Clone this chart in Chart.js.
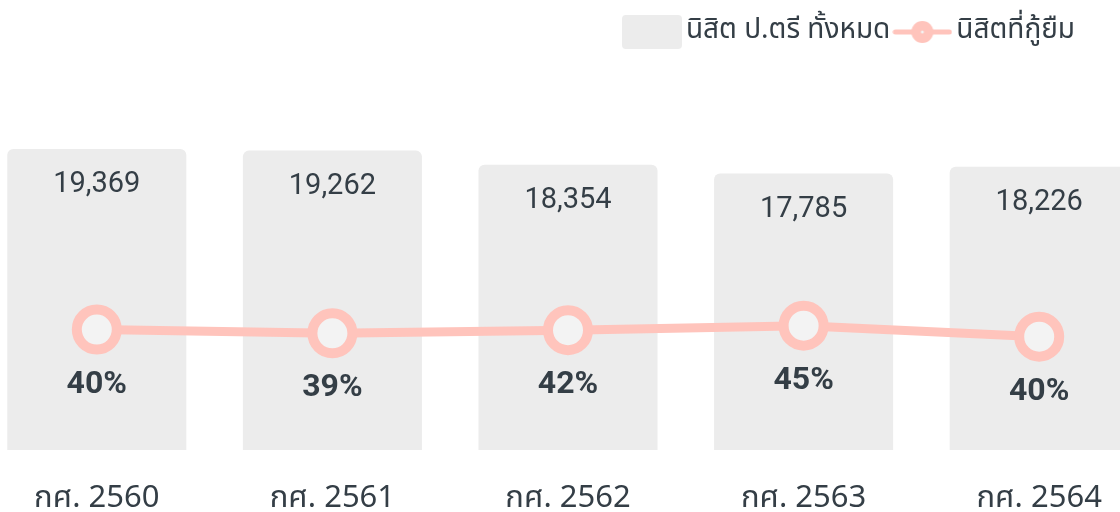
<!DOCTYPE html>
<html>
<head>
<meta charset="utf-8">
<script src="https://cdn.jsdelivr.net/npm/chart.js@4"></script>
<style>
  html, body { margin: 0; padding: 0; background: #fff; overflow: hidden; }
  #wrap { position: absolute; left: -21px; top: 0; width: 1178px; height: 512px; }
</style>
</head>
<body>
<div id="wrap"><canvas id="myChart" width="1178" height="512"></canvas></div>
<script>
const years = ['กศ. 2560', 'กศ. 2561', 'กศ. 2562', 'กศ. 2563', 'กศ. 2564'];
const totalStudents = [19369, 19262, 18354, 17785, 18226];
const loanStudents = [7750, 7510, 7710, 8000, 7290];
const loanPct = ['40%', '39%', '42%', '45%', '40%'];
const seriesNames = ['นิสิต ป.ตรี ทั้งหมด', 'นิสิตที่กู้ยืม'];

const thaiFont = '"Noto Sans Thai", "Noto Sans", sans-serif';
const pink = '#ffc4bc';
const barGray = '#ececec';
const textDark = '#343e46';

// legend markers
function boxMarker(){
  const c = document.createElement('canvas');
  c.width = 60; c.height = 34;
  const g = c.getContext('2d');
  g.fillStyle = barGray;
  g.beginPath();
  g.roundRect(0, 0, 60, 34, 4);
  g.fill();
  return c;
}
function lineMarker(){
  const c = document.createElement('canvas');
  c.width = 60; c.height = 24;
  const g = c.getContext('2d');
  g.strokeStyle = pink;
  g.lineWidth = 5;
  g.lineCap = 'round';
  g.beginPath(); g.moveTo(3, 12); g.lineTo(57, 12); g.stroke();
  g.fillStyle = pink;
  g.beginPath(); g.arc(30, 12, 11, 0, Math.PI * 2); g.fill();
  g.fillStyle = '#f3f3f3';
  g.beginPath(); g.arc(30, 12, 1.5, 0, Math.PI * 2); g.fill();
  return c;
}

const valueLabels = {
  id: 'valueLabels',
  afterDatasetsDraw(chart){
    const ctx = chart.ctx;
    ctx.save();
    ctx.textAlign = 'center';
    ctx.textBaseline = 'middle';
    ctx.fillStyle = textDark;
    ctx.font = '29px Roboto';
    chart.getDatasetMeta(0).data.forEach((bar, i) => {
      ctx.fillText(totalStudents[i].toLocaleString('en-US'), bar.x, bar.y + 36);
    });
    ctx.font = 'bold 32px Roboto';
    chart.getDatasetMeta(1).data.forEach((pt, i) => {
      ctx.fillText(loanPct[i], pt.x, pt.y + 55);
    });
    ctx.restore();
  }
};

const moveLegend = {
  id: 'moveLegend',
  afterLayout(chart){
    chart.legend.left -= 70;
    chart.legend.right -= 70;
  }
};

new Chart(document.getElementById('myChart'), {
  data: {
    labels: years,
    datasets: [
      {
        type: 'bar',
        label: seriesNames[0],
        data: totalStudents,
        backgroundColor: barGray,
        borderRadius: { topLeft: 6, topRight: 6 },
        borderSkipped: 'bottom',
        categoryPercentage: 1,
        barPercentage: 0.76,
        order: 1
      },
      {
        type: 'line',
        label: seriesNames[1],
        data: loanStudents,
        borderColor: pink,
        borderWidth: 9,
        pointRadius: 20,
        pointHoverRadius: 20,
        pointBorderWidth: 10,
        pointBackgroundColor: '#f3f3f3',
        pointBorderColor: pink,
        tension: 0,
        order: 0
      }
    ]
  },
  options: {
    responsive: false,
    animation: false,
    layout: { autoPadding: false, padding: { top: 6, bottom: 0, left: 0, right: 0 } },
    plugins: {
      tooltip: { enabled: false },
      legend: {
        position: 'top',
        align: 'end',
        labels: {
          usePointStyle: true,
          pointStyleWidth: 40,
          padding: 12,
          color: textDark,
          font: { family: thaiFont, size: 28 },
          generateLabels(){
            return [
              { text: seriesNames[0], pointStyle: boxMarker(), fillStyle: barGray, strokeStyle: barGray, lineWidth: 0, fontColor: textDark, datasetIndex: 0 },
              { text: seriesNames[1], pointStyle: lineMarker(), fillStyle: pink, strokeStyle: pink, lineWidth: 0, fontColor: textDark, datasetIndex: 1 }
            ];
          }
        }
      }
    },
    scales: {
      x: {
        grid: { display: false },
        border: { display: false },
        ticks: { color: textDark, padding: 24, font: { family: thaiFont, size: 31 } },
        afterFit(scale){
          scale.paddingLeft = 0;
          scale.paddingRight = 0;
          scale.paddingTop = 0;
          scale.paddingBottom = 0;
          scale.height = 62;
        }
      },
      y: {
        display: false,
        min: 0,
        max: 25350
      }
    }
  },
  plugins: [valueLabels, moveLegend]
});
</script>
</body>
</html>
